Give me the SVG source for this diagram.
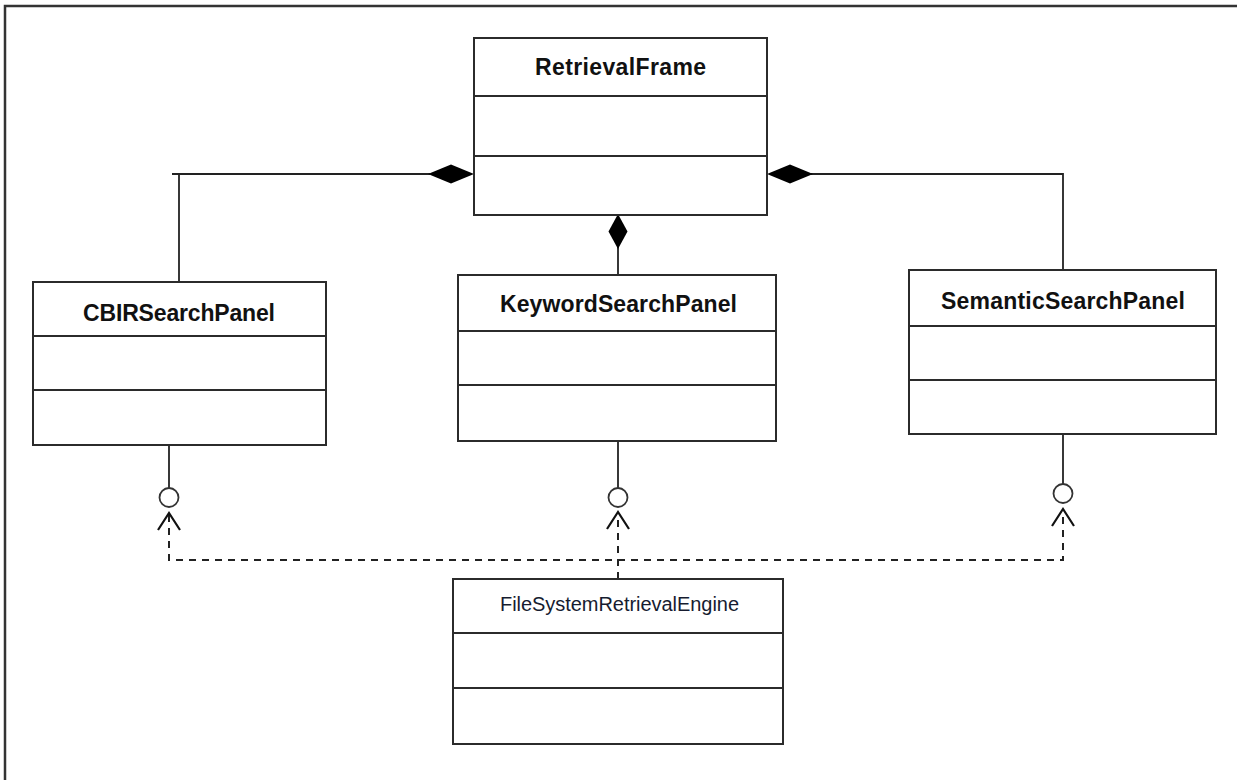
<svg xmlns="http://www.w3.org/2000/svg" width="1237" height="780" viewBox="0 0 1237 780">
<style>
.box{fill:#fff;stroke:#2b2b2b;stroke-width:2}
.div{stroke:#2b2b2b;stroke-width:2}
.title{font-family:"Liberation Sans",Arial,sans-serif;font-weight:bold;font-size:23px;fill:#111;text-anchor:middle}
.title2{font-family:"Liberation Sans",Arial,sans-serif;font-size:20px;fill:#161c30;text-anchor:middle}
.ln{stroke:#222;stroke-width:1.8;fill:none}
.dash{stroke:#222;stroke-width:2;fill:none;stroke-dasharray:7 6}
.dia{fill:#000;stroke:none}
.ball{fill:#fff;stroke:#333;stroke-width:1.8}
.arr{fill:none;stroke:#111;stroke-width:2.2}
</style>
<rect x="0" y="0" width="1237" height="780" fill="#fff"/>
<rect x="5" y="6" width="1245" height="790" fill="none" stroke="#333" stroke-width="2.5"/>

<g id="connectors">
  <polyline class="ln" points="172,174 430,174"/>
  <line class="ln" x1="179" y1="174" x2="179" y2="282"/>
  <polygon class="dia" points="474,174 451,164.5 428,174 451,183.5"/>
  <polyline class="ln" points="811,174 1063,174 1063,270"/>
  <polygon class="dia" points="767,174 790,164.5 813,174 790,183.5"/>
  <line class="ln" x1="618" y1="247" x2="618" y2="275"/>
  <polygon class="dia" points="618,214 627.5,231.5 618,249 608.5,231.5"/>

  <line class="ln" x1="169" y1="445" x2="169" y2="488"/>
  <circle class="ball" cx="169" cy="497.5" r="9.5"/>
  <line class="ln" x1="618" y1="441" x2="618" y2="488"/>
  <circle class="ball" cx="618" cy="497.5" r="9.5"/>
  <line class="ln" x1="1063" y1="434" x2="1063" y2="484"/>
  <circle class="ball" cx="1063" cy="493.5" r="9.5"/>

  <polyline class="dash" points="169,515 169,560 1063,560 1063,511"/>
  <line class="dash" x1="618" y1="579" x2="618" y2="514"/>
  <polyline class="arr" points="158,530 169,513 180,530"/>
  <polyline class="arr" points="607,529 618,512 629,529"/>
  <polyline class="arr" points="1052,526 1063,509 1074,526"/>
</g>

<g id="RetrievalFrame">
  <rect class="box" x="474" y="38" width="293" height="177"/>
  <line class="div" x1="474" y1="96" x2="767" y2="96"/>
  <line class="div" x1="474" y1="156" x2="767" y2="156"/>
  <text class="title" x="620.5" y="75" textLength="171">RetrievalFrame</text>
</g>

<g id="CBIRSearchPanel">
  <rect class="box" x="33" y="282" width="293" height="163"/>
  <line class="div" x1="33" y1="336" x2="326" y2="336"/>
  <line class="div" x1="33" y1="390" x2="326" y2="390"/>
  <text class="title" x="179" y="321" textLength="192">CBIRSearchPanel</text>
</g>

<g id="KeywordSearchPanel">
  <rect class="box" x="458" y="275" width="318" height="166"/>
  <line class="div" x1="458" y1="331" x2="776" y2="331"/>
  <line class="div" x1="458" y1="385" x2="776" y2="385"/>
  <text class="title" x="618.5" y="312" textLength="237">KeywordSearchPanel</text>
</g>

<g id="SemanticSearchPanel">
  <rect class="box" x="909" y="270" width="307" height="164"/>
  <line class="div" x1="909" y1="326" x2="1216" y2="326"/>
  <line class="div" x1="909" y1="380" x2="1216" y2="380"/>
  <text class="title" x="1063" y="309" textLength="244">SemanticSearchPanel</text>
</g>

<g id="FileSystemRetrievalEngine">
  <rect class="box" x="453" y="579" width="330" height="165"/>
  <line class="div" x1="453" y1="633" x2="783" y2="633"/>
  <line class="div" x1="453" y1="688" x2="783" y2="688"/>
  <text class="title2" x="619.5" y="611" textLength="239">FileSystemRetrievalEngine</text>
</g>
</svg>
